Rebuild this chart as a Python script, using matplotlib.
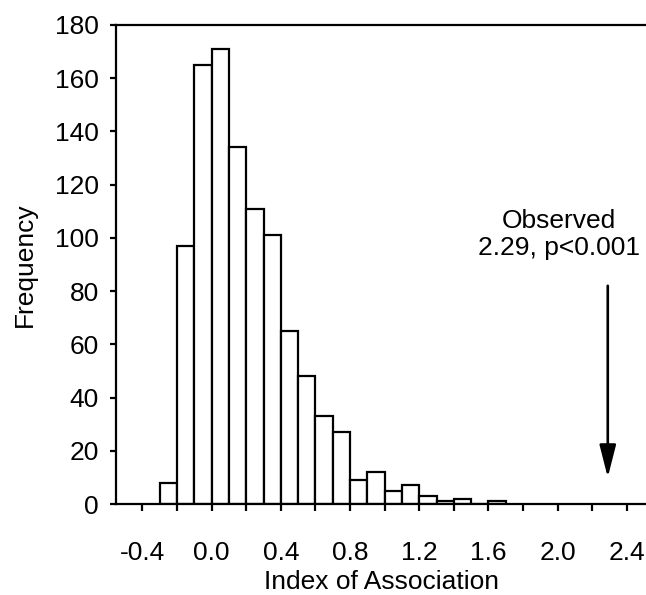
import matplotlib
matplotlib.use("Agg")
import matplotlib.pyplot as plt
from matplotlib.patches import ArrowStyle

plt.rcParams['font.family'] = ['Liberation Sans', 'DejaVu Sans']

# Histogram data (bin left edges, width 0.1)
bin_lefts = [-0.3, -0.2, -0.1, 0.0, 0.1, 0.2, 0.3, 0.4, 0.5, 0.6,
             0.7, 0.8, 0.9, 1.0, 1.1, 1.2, 1.3, 1.4, 1.5, 1.6]
counts = [8, 97, 165, 171, 134, 111, 101, 65, 48, 33,
          27, 9, 12, 5, 7, 3, 1, 2, 0, 1]
bin_width = 0.1

x_ticks = [-0.4, -0.2, 0.0, 0.2, 0.4, 0.6, 0.8, 1.0, 1.2, 1.4, 1.6, 1.8, 2.0, 2.2, 2.4]
x_ticklabels = ['-0.4', '', '0.0', '', '0.4', '', '0.8', '', '1.2', '', '1.6', '', '2.0', '', '2.4']
y_ticks = [0, 20, 40, 60, 80, 100, 120, 140, 160, 180]

observed = 2.29
arrow_top = 82
arrow_tip = 10
annot_text = "Observed\n2.29, p<0.001"

fs = 19

fig = plt.figure(figsize=(6.46, 5.95), dpi=100)
ax = fig.add_axes([116/646, 1 - 504/595, 530/646, (504-25)/595])

ax.bar(bin_lefts, counts, width=bin_width, align='edge',
       facecolor='white', edgecolor='black', linewidth=1.6, zorder=2)

ax.set_xlim(-0.553, 2.511)
ax.set_ylim(0, 180)
ax.set_xticks(x_ticks)
ax.set_xticklabels(x_ticklabels)
ax.set_yticks(y_ticks)

for s in ['left', 'bottom', 'top']:
    ax.spines[s].set_linewidth(1.6)
ax.spines['right'].set_visible(False)

ax.tick_params(axis='x', direction='out', length=5, width=1.6, labelsize=fs, pad=22)
ax.tick_params(axis='y', direction='out', length=4.5, width=1.6, labelsize=fs, pad=8)

ax.set_xlabel('Index of Association', fontsize=fs, labelpad=3)
ax.set_ylabel('Frequency', fontsize=fs, labelpad=13)

ax.annotate('', xy=(observed, arrow_tip), xytext=(observed, arrow_top),
            arrowprops=dict(arrowstyle=ArrowStyle('-|>', head_length=1.1, head_width=0.28),
                            mutation_scale=18, color='black', linewidth=1.9,
                            shrinkA=0, shrinkB=0))
ax.text(2.008, 93.5, annot_text, ha='center', va='baseline', multialignment='center',
        fontsize=fs, linespacing=1.15)

fig.savefig('out.png', dpi=100)
